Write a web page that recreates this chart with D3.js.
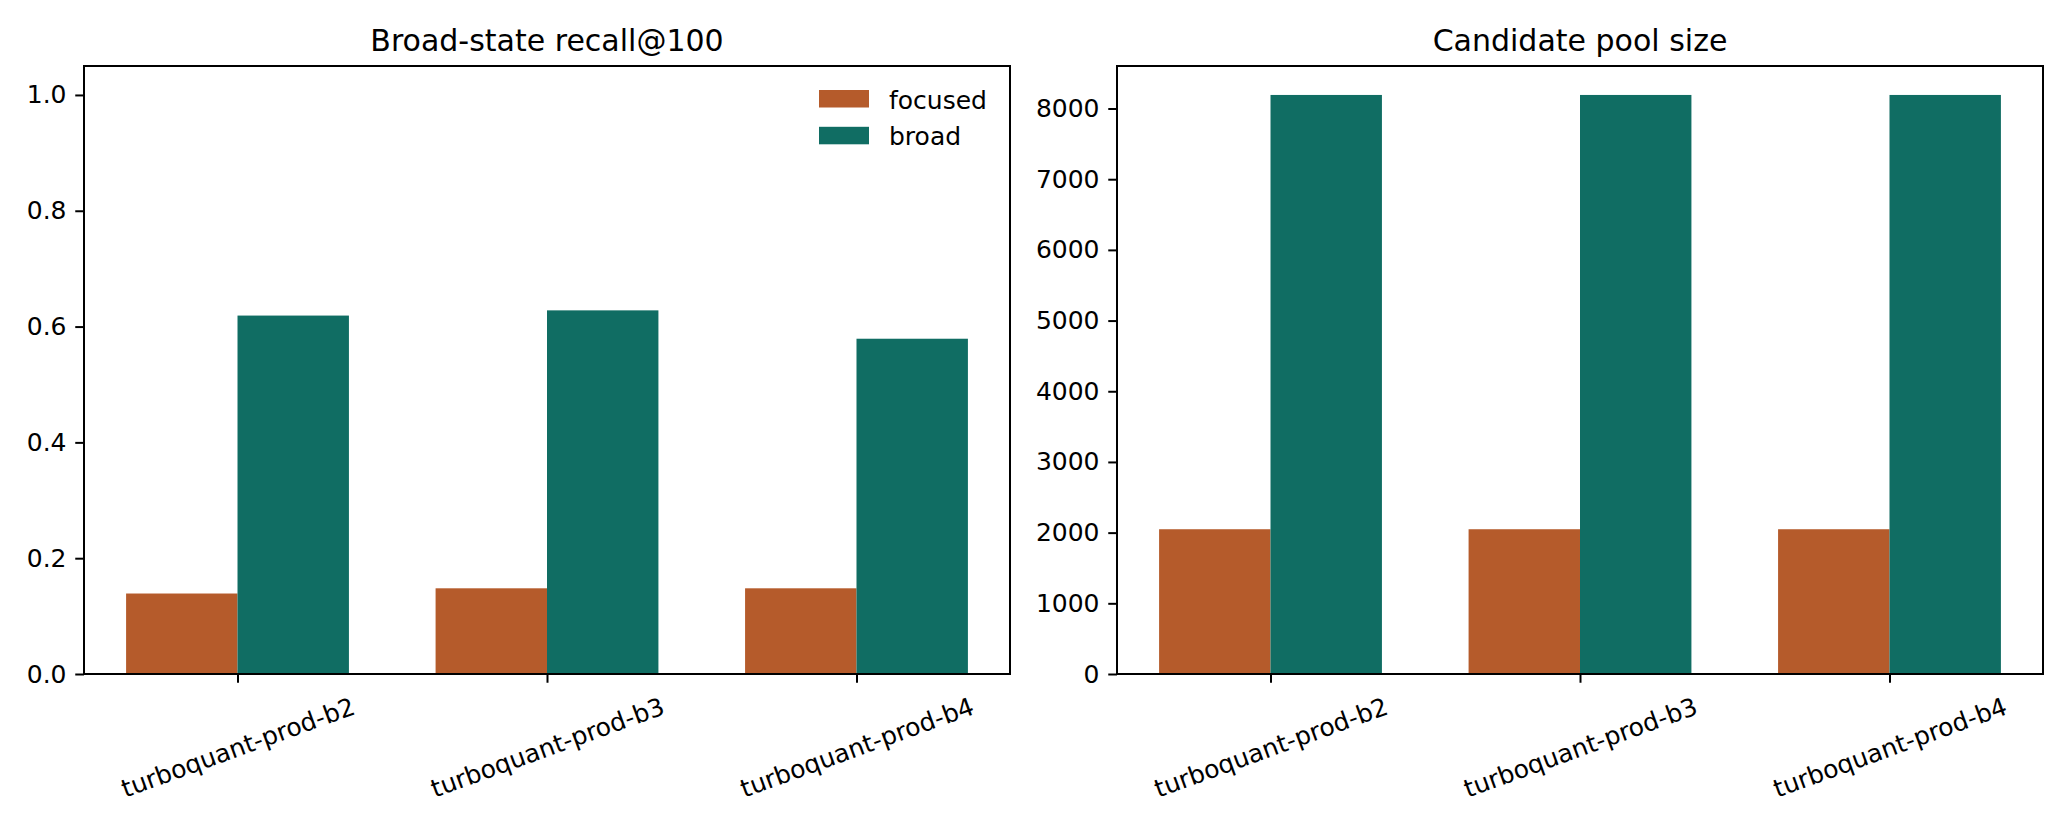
<!DOCTYPE html>
<html>
<head>
<meta charset="utf-8">
<script src="https://cdn.jsdelivr.net/npm/d3@7"></script>
<style>
  body { margin: 0; background: #fff; }
  text { font-family: "DejaVu Sans", sans-serif; fill: #000; }
</style>
</head>
<body>
<script>
// data
var categories = ["turboquant-prod-b2", "turboquant-prod-b3", "turboquant-prod-b4"];
var seriesNames = ["focused", "broad"];
var recallFocused = [0.139, 0.148, 0.148];
var recallBroad = [0.619, 0.628, 0.579];
var poolFocused = [2048, 2048, 2048];
var poolBroad = [8192, 8192, 8192];
var recallTicks = [0.0, 0.2, 0.4, 0.6, 0.8, 1.0];
var poolTicks = [0, 1000, 2000, 3000, 4000, 5000, 6000, 7000, 8000];

var colors = ["#b55b2b", "#106d63"];
var W = 2070, H = 827;
var barW = 0.36;
var fs = 25;
var tickLen = 8.75, tickPad = 8.75, lw = 2;

var svg = d3.select("body").append("svg")
  .attr("width", W)
  .attr("height", H);

function panel(opt) {
  var x0 = opt.x0, x1 = opt.x1, y0 = 66, y1 = 674;
  var g = svg.append("g");

  var lo = -barW, hi = categories.length - 1 + barW;
  var m = (hi - lo) * 0.05;
  var x = d3.scaleLinear().domain([lo - m, hi + m]).range([x0, x1]);
  var y = d3.scaleLinear().domain([0, opt.ymax]).range([y1, y0]);

  var series = [opt.a, opt.b];
  series.forEach(function(vals, s) {
    g.selectAll(null).data(vals).enter().append("rect")
      .attr("x", function(d, i) { return x(s == 0 ? i - barW : i); })
      .attr("width", x(barW) - x(0))
      .attr("y", function(d) { return y(d); })
      .attr("height", function(d) { return y(0) - y(d); })
      .attr("fill", colors[s]);
  });

  // y axis
  var ya = g.append("g").attr("transform", "translate(" + x0 + ",0)")
    .call(d3.axisLeft(y).tickValues(opt.ticks).tickFormat(opt.fmt)
      .tickSize(tickLen).tickPadding(tickPad).tickSizeOuter(0));
  ya.select(".domain").remove();
  ya.selectAll(".tick line").attr("stroke", "#000").attr("stroke-width", lw);
  ya.selectAll(".tick text").attr("font-size", fs).attr("font-family", "DejaVu Sans").attr("fill", "#000");

  // x axis
  var xa = g.append("g").attr("transform", "translate(0," + y1 + ")")
    .call(d3.axisBottom(x).tickValues(d3.range(categories.length))
      .tickFormat(function(i) { return categories[i]; })
      .tickSize(tickLen).tickSizeOuter(0));
  xa.select(".domain").remove();
  xa.selectAll(".tick line").attr("stroke", "#000").attr("stroke-width", lw);
  xa.selectAll(".tick text")
    .attr("font-size", fs).attr("font-family", "DejaVu Sans").attr("fill", "#000")
    .attr("text-anchor", "middle").attr("y", null).attr("dy", "0.35em")
    .attr("transform", function() {
      var tw = this.getComputedTextLength();
      var a = 20 * Math.PI / 180, th = fs * 1.17;
      var h = tw * Math.sin(a) + th * Math.cos(a);
      return "translate(0," + (tickLen + tickPad + h / 2) + ") rotate(-20)";
    });

  // frame
  g.append("rect")
    .attr("x", x0).attr("y", y0)
    .attr("width", x1 - x0).attr("height", y1 - y0)
    .attr("fill", "none").attr("stroke", "#000").attr("stroke-width", lw);

  // title
  g.append("text")
    .attr("x", (x0 + x1) / 2).attr("y", y0 - 15)
    .attr("text-anchor", "middle")
    .attr("font-size", 30)
    .text(opt.title);

  if (opt.legend) {
    seriesNames.forEach(function(n, s) {
      var ry = 90 + s * 36.8;
      g.append("rect")
        .attr("x", x1 - 191).attr("y", ry)
        .attr("width", 50).attr("height", 17.5)
        .attr("fill", colors[s]);
      g.append("text")
        .attr("x", x1 - 121).attr("y", ry + 18.5)
        .attr("font-size", fs)
        .text(n);
    });
  }
}

panel({ x0: 84, x1: 1010, ymax: 1.05, a: recallFocused, b: recallBroad,
  ticks: recallTicks, fmt: d3.format(".1f"), title: "Broad-state recall@100", legend: true });

panel({ x0: 1117, x1: 2043, ymax: d3.max(poolBroad.concat(poolFocused)) * 1.05, a: poolFocused, b: poolBroad,
  ticks: poolTicks, fmt: d3.format("d"), title: "Candidate pool size", legend: false });
</script>
</body>
</html>
